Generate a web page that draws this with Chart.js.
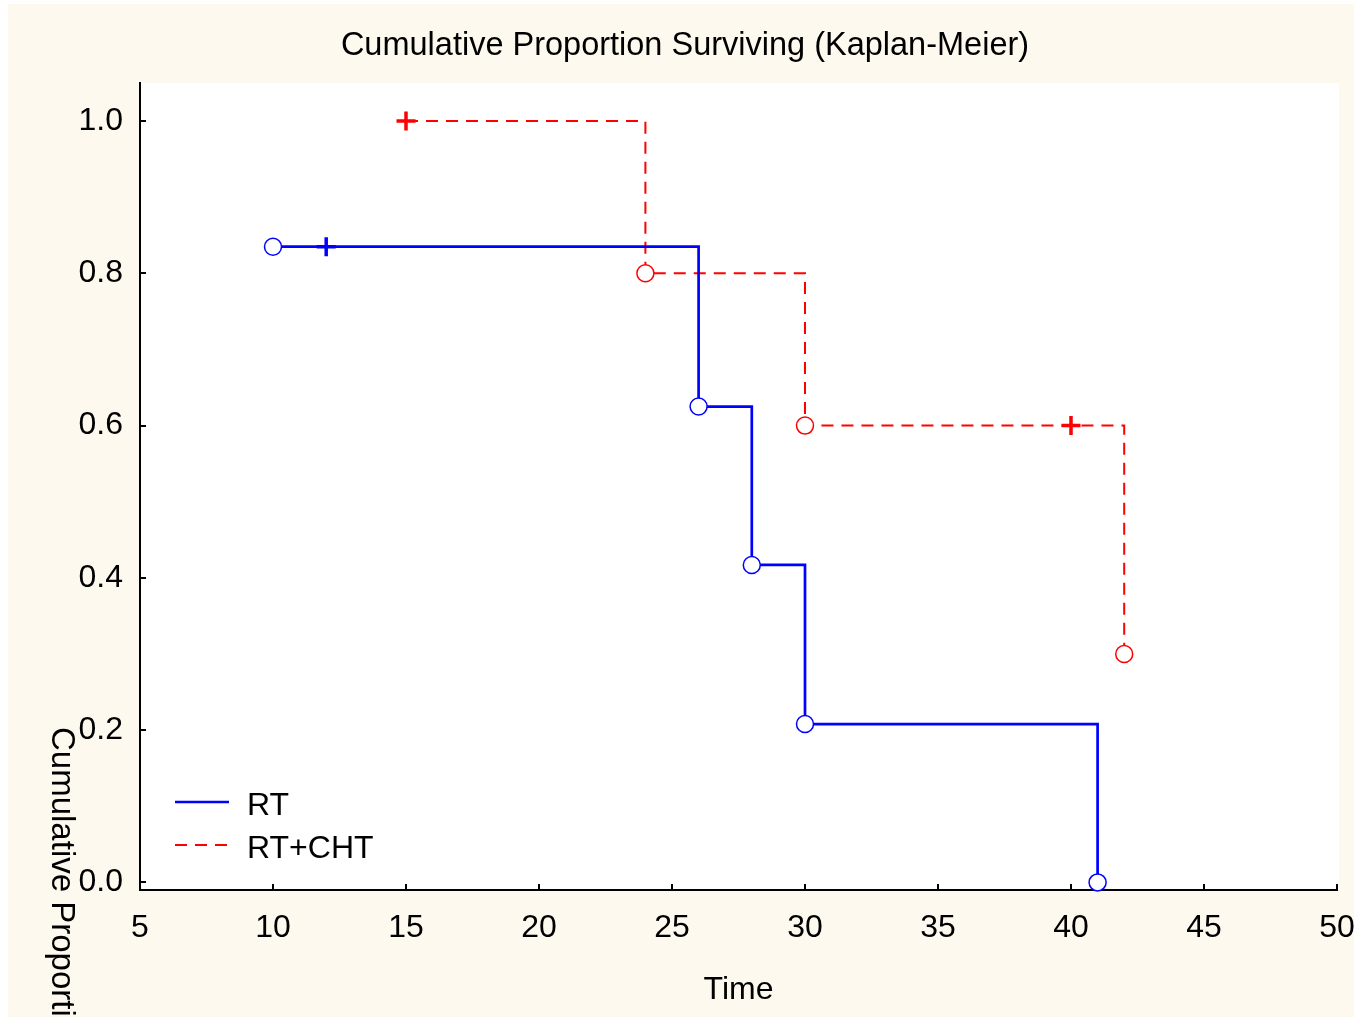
<!DOCTYPE html>
<html>
<head>
<meta charset="utf-8">
<script src="https://cdn.jsdelivr.net/npm/chart.js@4.4.0/dist/chart.umd.min.js"></script>
<style>
  html, body { margin: 0; padding: 0; background: #fff; }
  #wrap { width: 1354px; height: 1017px; }
</style>
</head>
<body>
<div id="wrap"><canvas id="km" width="1354" height="1017"></canvas></div>
<script>
// axis ticks
const xTicks = [5, 10, 15, 20, 25, 30, 35, 40, 45, 50];
const yTicks = [0.0, 0.2, 0.4, 0.6, 0.8, 1.0];

// RT group: events (circles) and censored (+)
const rtEventTime = [10, 26, 28, 30, 41];
const rtEventSurv = [0.835, 0.625, 0.417, 0.208, 0.0];
const rtCensTime = [12];
const rtCensSurv = [0.835];

// RT+CHT group
const chtEventTime = [24, 30, 42];
const chtEventSurv = [0.8, 0.6, 0.3];
const chtCensTime = [15, 40];
const chtCensSurv = [1.0, 0.6];

const labels = ['RT', 'RT+CHT'];
const BLUE = '#0000ff';
const RED = '#ff0000';
const FONT = '"Liberation Sans", Arial, sans-serif';

const pts = (xs, ys) => xs.map((x, i) => ({ x: x, y: ys[i] }));
const stepPts = (a, b) => a.concat(b).sort((p, q) => p.x - q.x);

const rtEvents = pts(rtEventTime, rtEventSurv);
const rtCens = pts(rtCensTime, rtCensSurv);
const chtEvents = pts(chtEventTime, chtEventSurv);
const chtCens = pts(chtCensTime, chtCensSurv);

const bgPlugin = {
    id: 'bg',
    beforeDraw(chart) {
        const ctx = chart.ctx;
        const a = chart.chartArea;
        ctx.save();
        ctx.fillStyle = '#ffffff';
        ctx.fillRect(0, 0, chart.width, chart.height);
        ctx.fillStyle = '#fdf9ef';
        ctx.fillRect(8, 4, chart.width - 8, chart.height - 4);
        ctx.fillStyle = '#ffffff';
        ctx.fillRect(a.left, a.top, a.right - a.left + 2, a.bottom - a.top);
        ctx.restore();
    }
};

const decorPlugin = {
    id: 'decor',
    afterDraw(chart) {
        const ctx = chart.ctx;
        const a = chart.chartArea;
        const xs = chart.scales.x, ys = chart.scales.y;
        ctx.save();

        // inward tick marks
        ctx.strokeStyle = '#000';
        ctx.lineWidth = 2;
        ctx.beginPath();
        xTicks.forEach(v => {
            const px = Math.round(xs.getPixelForValue(v));
            ctx.moveTo(px, a.bottom);
            ctx.lineTo(px, a.bottom - 6);
        });
        yTicks.forEach(v => {
            const py = Math.round(ys.getPixelForValue(v));
            ctx.moveTo(a.left, py);
            ctx.lineTo(a.left + 6, py);
        });
        ctx.stroke();

        ctx.fillStyle = '#000';
        ctx.textBaseline = 'alphabetic';

        // title
        ctx.font = '32.5px ' + FONT;
        ctx.textAlign = 'center';
        ctx.fillText('Cumulative Proportion Surviving (Kaplan-Meier)', 685, 55);

        ctx.font = '32px ' + FONT;
        // x title
        ctx.fillText('Time', (a.left + a.right) / 2, 999);

        // y title, rotated and running off the bottom
        ctx.save();
        ctx.translate(52, 727);
        ctx.rotate(Math.PI / 2);
        ctx.textAlign = 'left';
        ctx.font = '33px ' + FONT;
        ctx.fillText('Cumulative Proportion Surviving', 0, 0);
        ctx.restore();

        // legend
        const legendRows = [
            { text: labels[0], color: BLUE, dash: [], width: 2.5, y: 802 },
            { text: labels[1], color: RED, dash: [12, 8], width: 2, y: 845 }
        ];
        ctx.textAlign = 'left';
        legendRows.forEach(r => {
            ctx.strokeStyle = r.color;
            ctx.lineWidth = r.width;
            ctx.setLineDash(r.dash);
            ctx.beginPath();
            ctx.moveTo(175, r.y);
            ctx.lineTo(229, r.y);
            ctx.stroke();
            ctx.setLineDash([]);
            ctx.fillText(r.text, 247, r.y + 13);
        });
        ctx.restore();
    }
};

new Chart(document.getElementById('km'), {
    type: 'scatter',
    data: {
        datasets: [
            {
                label: labels[0],
                type: 'line',
                data: stepPts(rtEvents, rtCens),
                stepped: true,
                borderColor: BLUE,
                borderWidth: 2.7,
                pointRadius: 0,
                fill: false,
                order: 3
            },
            {
                label: labels[1],
                type: 'line',
                data: stepPts(chtEvents, chtCens),
                stepped: true,
                borderColor: RED,
                borderWidth: 2,
                borderDash: [12, 8],
                pointRadius: 0,
                fill: false,
                order: 4
            },
            {
                label: 'RT events',
                data: rtEvents,
                pointStyle: 'circle',
                pointRadius: 8.5,
                borderWidth: 1.5,
                pointBorderWidth: 1.5,
                borderColor: BLUE,
                backgroundColor: '#ffffff',
                clip: false,
                order: 1
            },
            {
                label: 'RT censored',
                data: rtCens,
                pointStyle: 'cross',
                pointRadius: 9.5,
                borderWidth: 3.5,
                pointBorderWidth: 3.5,
                borderColor: BLUE,
                backgroundColor: BLUE,
                clip: false,
                order: 1
            },
            {
                label: 'RT+CHT events',
                data: chtEvents,
                pointStyle: 'circle',
                pointRadius: 8.5,
                borderWidth: 1.5,
                pointBorderWidth: 1.5,
                borderColor: RED,
                backgroundColor: '#ffffff',
                clip: false,
                order: 2
            },
            {
                label: 'RT+CHT censored',
                data: chtCens,
                pointStyle: 'cross',
                pointRadius: 9.5,
                borderWidth: 3.5,
                pointBorderWidth: 3.5,
                borderColor: RED,
                backgroundColor: RED,
                clip: false,
                order: 2
            }
        ]
    },
    options: {
        responsive: false,
        animation: false,
        devicePixelRatio: 1,
        layout: { padding: { top: 83, right: 17, left: 0, bottom: 0 } },
        font: { family: FONT },
        plugins: {
            legend: { display: false },
            tooltip: { enabled: false },
            title: { display: false }
        },
        scales: {
            x: {
                type: 'linear',
                min: 5,
                max: 50,
                afterBuildTicks: s => { s.ticks = xTicks.map(v => ({ value: v })); },
                afterFit: s => { s.height = 127; s.paddingLeft = 0; s.paddingRight = 0; },
                ticks: {
                    color: '#000',
                    font: { size: 32, family: FONT },
                    padding: 19,
                    maxRotation: 0,
                    callback: v => String(v)
                },
                grid: { display: false, drawTicks: false },
                border: { display: true, color: '#000', width: 2 }
            },
            y: {
                type: 'linear',
                min: -0.01,
                max: 1.05,
                afterBuildTicks: s => { s.ticks = yTicks.map(v => ({ value: v })); },
                afterFit: s => { s.width = 140; s.paddingTop = 0; s.paddingBottom = 0; },
                ticks: {
                    color: '#000',
                    font: { size: 32, family: FONT },
                    padding: 17,
                    callback: v => v.toFixed(1)
                },
                grid: { display: false, drawTicks: false },
                border: { display: true, color: '#000', width: 2 }
            }
        }
    },
    plugins: [bgPlugin, decorPlugin]
});
</script>
</body>
</html>
